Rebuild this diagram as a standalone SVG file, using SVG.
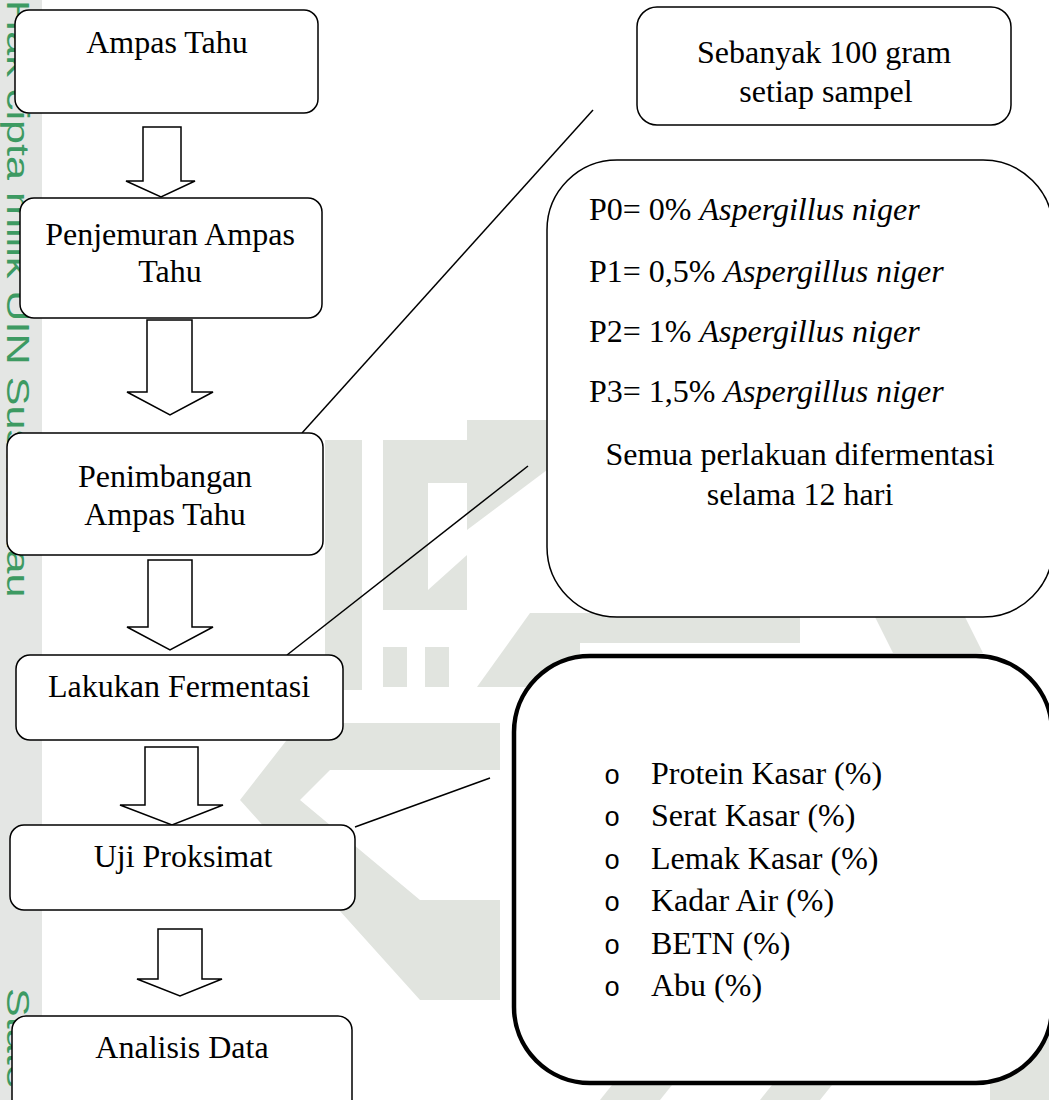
<svg xmlns="http://www.w3.org/2000/svg" width="1049" height="1100" viewBox="0 0 1049 1100">
<style>
.box{fill:#fff;stroke:#000;stroke-width:1.5}
.thick{fill:#fff;stroke:#000;stroke-width:4.5}
.arr{fill:#fff;stroke:#000;stroke-width:1.5;stroke-linejoin:miter}
.t{font-family:"Liberation Serif","Times New Roman",serif;font-size:32px;fill:#000}
.c{text-anchor:middle}
.i{font-style:italic}
.b{font-family:"Liberation Mono","Courier New",monospace;font-size:27px;fill:#000}
.wm{fill:#e1e4df}
.ln{stroke:#000;stroke-width:1.5;fill:none}
.side{font-family:"Liberation Sans",Arial,sans-serif;font-size:32px;fill:#3d9a62}
</style>
<rect width="1049" height="1100" fill="#fff"/>
<g id="watermark">
<rect class="wm" x="325" y="440" width="37" height="250"/>
<path class="wm" d="M383,440 H467 V610 H383 Z M428,483 V590 L467,555 V483 Z" fill-rule="evenodd"/>
<polygon class="wm" points="467,420 547,420 547,470 467,530"/>
<rect class="wm" x="383" y="647" width="24" height="40"/>
<rect class="wm" x="425" y="647" width="24" height="40"/>
<polygon class="wm" points="477,687 530,613 580,613 580,687"/>
<rect class="wm" x="540" y="613" width="260" height="30"/>
<polygon class="wm" points="873,613 963,613 983,653 893,653"/>
<polygon class="wm" points="240,800 300,723 500,723 500,770 330,770 300,800 420,900 500,900 500,1000 420,1000"/>
<polygon class="wm" points="600,1100 680,1000 740,1000 660,1100"/>
<polygon class="wm" points="760,1100 840,1000 900,1000 820,1100"/>
<rect class="wm" x="990" y="1000" width="59" height="100"/>
</g>
<rect x="0" y="0" width="42" height="1100" fill="#e4e6e4"/>
<text class="side" transform="translate(7,0) rotate(90) scale(1.35,1)">Hak cipta milik UIN Suska Riau</text>
<text class="side" transform="translate(7,988) rotate(90) scale(1.35,1)">State</text>
<g id="connectors">
<line class="ln" x1="593" y1="110" x2="302" y2="433"/>
<line class="ln" x1="528" y1="466" x2="287" y2="655"/>
<line class="ln" x1="490" y1="778" x2="355" y2="827"/>
<path class="arr" d="M143,127 H181 V181 H195 L161,197 L126,181 H143 Z"/>
<path class="arr" d="M147,320 H192 V392 H213 L170,415 L127,392 H147 Z"/>
<path class="arr" d="M148,560 H192 V627 H213 L170,650 L127,627 H148 Z"/>
<path class="arr" d="M145,747 H198 V805 H223 L172,825 L120,805 H145 Z"/>
<path class="arr" d="M158,929 H202 V979 H222 L180,996 L137,979 H158 Z"/>
</g>
<g id="n1"><rect class="box" x="15" y="10" width="303" height="103" rx="14"/><text class="t c" x="167" y="53">Ampas Tahu</text></g>
<g id="n2"><rect class="box" x="20" y="198" width="302" height="120" rx="14"/><text class="t c" x="170" y="245">Penjemuran Ampas</text><text class="t c" x="170" y="282">Tahu</text></g>
<g id="n3"><rect class="box" x="7" y="433" width="316" height="122" rx="14"/><text class="t c" x="165" y="487">Penimbangan</text><text class="t c" x="165" y="525">Ampas Tahu</text></g>
<g id="n4"><rect class="box" x="16" y="655" width="327" height="85" rx="14"/><text class="t c" x="179" y="697">Lakukan Fermentasi</text></g>
<g id="n5"><rect class="box" x="10" y="825" width="345" height="85" rx="14"/><text class="t c" x="183" y="867">Uji Proksimat</text></g>
<g id="n6"><rect class="box" x="12" y="1016" width="340" height="100" rx="14"/><text class="t c" x="182" y="1058">Analisis Data</text></g>
<g id="r1"><rect class="box" x="637" y="7" width="374" height="118" rx="20"/><text class="t c" x="824" y="63">Sebanyak 100 gram</text><text class="t c" x="826" y="102">setiap sampel</text></g>
<g id="r2"><rect class="box" x="547" y="160" width="506" height="457" rx="70"/>
<text class="t" x="589" y="220">P0= 0% <tspan class="i">Aspergillus niger</tspan></text>
<text class="t" x="589" y="282">P1= 0,5% <tspan class="i">Aspergillus niger</tspan></text>
<text class="t" x="589" y="342">P2= 1% <tspan class="i">Aspergillus niger</tspan></text>
<text class="t" x="589" y="402">P3= 1,5% <tspan class="i">Aspergillus niger</tspan></text>
<text class="t c" x="800" y="465">Semua perlakuan difermentasi</text>
<text class="t c" x="800" y="505">selama 12 hari</text></g>
<g id="r3"><rect class="thick" x="514" y="656" width="538" height="427" rx="76"/>
<text class="b" x="604" y="784">o</text><text class="t" x="651" y="784">Protein Kasar (%)</text>
<text class="b" x="604" y="826">o</text><text class="t" x="651" y="826">Serat Kasar (%)</text>
<text class="b" x="604" y="869">o</text><text class="t" x="651" y="869">Lemak Kasar (%)</text>
<text class="b" x="604" y="911">o</text><text class="t" x="651" y="911">Kadar Air (%)</text>
<text class="b" x="604" y="954">o</text><text class="t" x="651" y="954">BETN (%)</text>
<text class="b" x="604" y="996">o</text><text class="t" x="651" y="996">Abu (%)</text></g>
</svg>
